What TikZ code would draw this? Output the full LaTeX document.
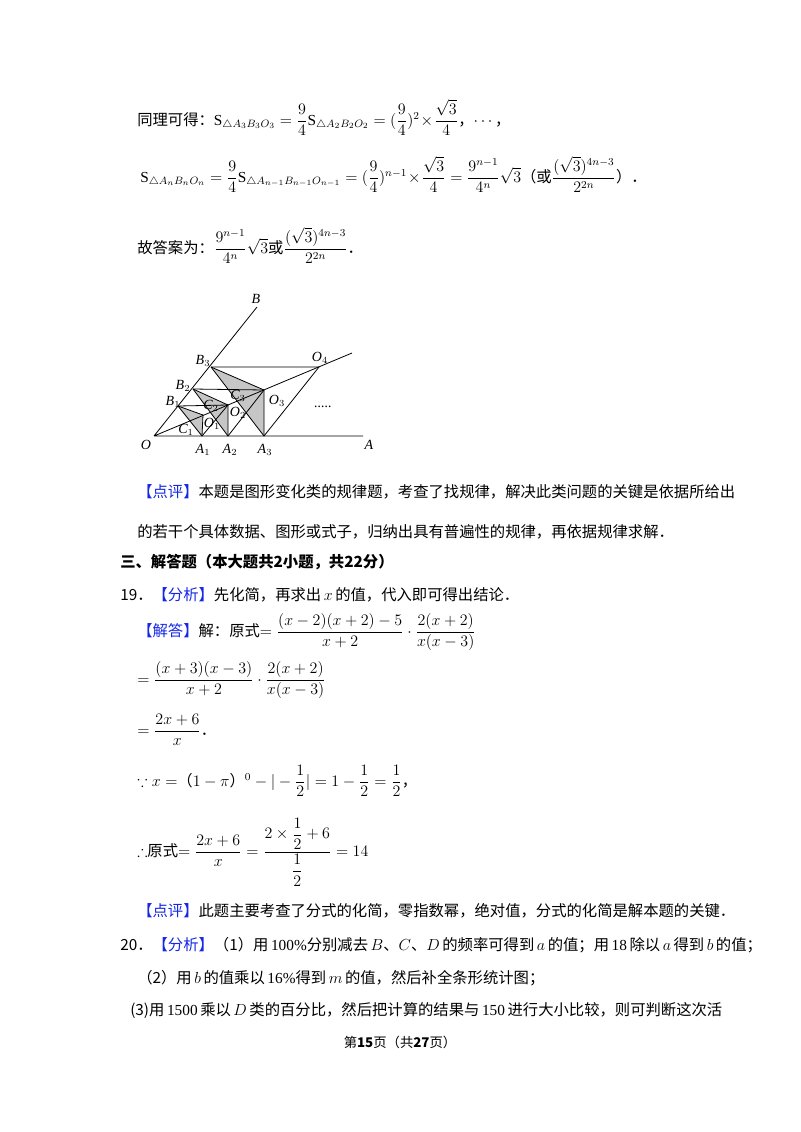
\documentclass[tikz,border=0pt]{standalone}
\usepackage{amsmath,amssymb}
\usepackage{fontspec}
\setmainfont{Liberation Serif}
\newfontfamily\cjk{Noto Sans CJK SC}
\definecolor{kblue}{RGB}{20,40,230}
\begin{document}
\begin{tikzpicture}[x=0.75pt,y=-0.75pt,
  tx/.style={anchor=base west,inner sep=0pt,font=\cjk\fontsize{11.5}{14}\selectfont},
  lb/.style={inner sep=0pt,font=\itshape\fontsize{10.5}{11}\selectfont},
  ln/.style={line width=0.6pt}]
\useasboundingbox (0,0) rectangle (800,1132);
\fill[white] (0,0) rectangle (800,1132);
\newcommand\kb[1]{\textcolor{kblue}{#1}}
% text lines
\node[tx] (l1) at (137,125) {同理可得：$\mathrm{S}_{\triangle A_3B_3O_3}=\dfrac94\mathrm{S}_{\triangle A_2B_2O_2}=(\dfrac94)^2\!\times\!\dfrac{\sqrt3}{4}$，$\cdots$，};
\node[tx] (l2) at (140,182) {$\mathrm{S}_{\triangle A_nB_nO_n}=\dfrac94\mathrm{S}_{\triangle A_{n-1}B_{n-1}O_{n-1}}=(\dfrac94)^{n-1}\!\times\!\dfrac{\sqrt3}{4}=\dfrac{9^{n-1}}{4^n}\sqrt3$（或$\dfrac{(\sqrt3)^{4n-3}}{2^{2n}}$）．};
\node[tx] (l3) at (137,253) {故答案为：$\dfrac{9^{n-1}}{4^n}\sqrt3$或$\dfrac{(\sqrt3)^{4n-3}}{2^{2n}}$．};
% figure
\coordinate (O) at (154,436); \coordinate (Aend) at (363,436);
\coordinate (Bend) at (257,307);
\coordinate (B1) at (178,406); \coordinate (B2) at (193,389); \coordinate (B3) at (211,367);
\coordinate (A1) at (202,436); \coordinate (A2) at (228,436); \coordinate (A3) at (264,436);
\coordinate (O1) at (203,415); \coordinate (O2) at (228,405); \coordinate (O3) at (264,390);
\coordinate (O4) at (319,367); \coordinate (Rend) at (352,353);
\fill[gray!45] (B1)--(O1)--(A1)--cycle;
\fill[gray!45] (B2)--(O2)--(A2)--cycle;
\fill[gray!45] (B3)--(O3)--(A3)--cycle;
\draw[ln] (O)--(Aend) (O)--(Bend) (O)--(Rend);
\draw[ln] (B1)--(O2) (B2)--(O3) (B3)--(O4);
\draw[ln] (B1)--(A1) (B2)--(A2) (B3)--(A3);
\draw[ln] (B1)--(O1)--(A1) (B2)--(O2)--(A2) (B3)--(O3)--(A3);
\draw[ln] (A1)--(O2) (A2)--(O3) (A3)--(O4);
\node[lb] at (256,299) {B};
\node[lb] at (146,445) {O};
\node[lb] at (369,445) {A};
\node[lb] at (203,450) {A$_1$};
\node[lb] at (230,450) {A$_2$};
\node[lb] at (265,450) {A$_3$};
\node[lb] at (173,402) {B$_1$};
\node[lb] at (183,386) {B$_2$};
\node[lb] at (203,361) {B$_3$};
\node[lb] at (212,424) {O$_1$};
\node[lb] at (238,413) {O$_2$};
\node[lb] at (277,401) {O$_3$};
\node[lb] at (320,358) {O$_4$};
\node[lb] at (186,430) {C$_1$};
\node[lb] at (211,406) {C$_2$};
\node[lb] at (238,396) {C$_3$};
\node[lb] at (323,407) {.....};
% rest
\node[tx] (l4) at (137,497) {\kb{【点评】}本题是图形变化类的规律题，考查了找规律，解决此类问题的关键是依据所给出};
\node[tx] (l5) at (137,537) {的若干个具体数据、图形或式子，归纳出具有普遍性的规律，再依据规律求解．};
\node[tx,font=\cjk\bfseries\fontsize{11.5}{14}\selectfont] (l6) at (120,567) {三、解答题（本大题共2小题，共22分）};
\node[tx] (l7) at (120,600) {19．\kb{【分析】}先化简，再求出\,$x$\,的值，代入即可得出结论．};
\node[tx] (l8) at (137,636) {\kb{【解答】}解：原式$=\dfrac{(x-2)(x+2)-5}{x+2}\cdot\dfrac{2(x+2)}{x(x-3)}$};
\node[tx] (l9) at (137,684) {$=\dfrac{(x+3)(x-3)}{x+2}\cdot\dfrac{2(x+2)}{x(x-3)}$};
\node[tx] (l10) at (137,735) {$=\dfrac{2x+6}{x}$．};
\node[tx] (l11) at (137,786) {$\because x=$（$1-\pi$）$^0-|-\dfrac12|=1-\dfrac12=\dfrac12$，};
\node[tx] (l12) at (137,856) {$\therefore$原式$=\dfrac{2x+6}{x}=\dfrac{2\times\dfrac12+6}{\dfrac12}=14$};
\node[tx] (l13) at (137,916) {\kb{【点评】}此题主要考查了分式的化简，零指数幂，绝对值，分式的化简是解本题的关键．};
\node[tx] (l14) at (120,950) {20．\kb{【分析】}（1）用\,{\rmfamily 100\%}分别减去\,$B$、$C$、$D$\,的频率可得到\,$a$\,的值；用\,{\rmfamily 18}\,除以\,$a$\,得到\,$b$\,的值；};
\node[tx] (l15) at (137,983) {（2）用\,$b$\,的值乘以\,{\rmfamily 16\%}得到\,$m$\,的值，然后补全条形统计图；};
\node[tx] (l16) at (130,1015) {(3)用\,{\rmfamily 1500}\,乘以\,$D$\,类的百分比，然后把计算的结果与\,{\rmfamily 150}\,进行大小比较，则可判断这次活};
\node[tx,anchor=base,font=\cjk\fontsize{10}{12}\selectfont] (ft) at (400,1047) {第\textbf{15}页（共\textbf{27}页）};
\end{tikzpicture}
\end{document}
